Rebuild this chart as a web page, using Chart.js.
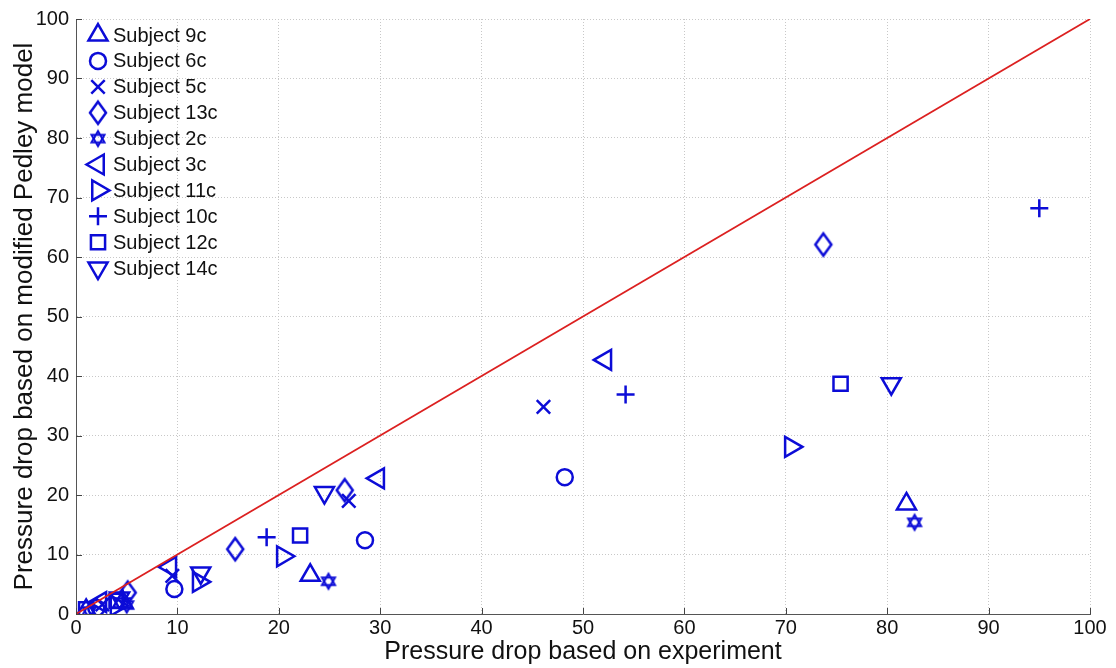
<!DOCTYPE html>
<html lang="en">
  <head>
    <meta charset="utf-8" />
    <script src="https://cdn.jsdelivr.net/npm/chart.js@4.4.0/dist/chart.umd.min.js"></script>
    <title>Pressure drop</title>
    <style>
      body { margin: 0; background: #fff; }
    </style>
  </head>
  <body>
    <canvas id="chart" width="1116" height="668"></canvas>
    <script>
      // experiment (x) vs modified Pedley model (y), one pair of arrays per subject
      const s9cX  = [81.9, 23.1, 4.6, 1.0];
      const s9cY  = [18.5, 6.5, 2.0, 0.6];
      const s6cX  = [48.2, 28.5, 9.7, 2.0];
      const s6cY  = [23.0, 12.4, 4.2, 1.0];
      const s5cX  = [46.1, 26.9, 9.5, 2.6];
      const s5cY  = [34.8, 19.0, 6.4, 1.6];
      const s13cX = [73.7, 26.5, 15.7, 5.1];
      const s13cY = [62.1, 20.8, 10.9, 3.6];
      const s2cX  = [82.7, 24.9, 5.0, 1.3];
      const s2cY  = [15.4, 5.5, 1.5, 0.5];
      const s3cX  = [52.2, 29.8, 9.3, 2.4];
      const s3cY  = [42.7, 22.8, 7.9, 2.0];
      const s11cX = [70.5, 20.4, 12.1, 4.0];
      const s11cY = [28.1, 9.7, 5.4, 1.4];
      const s10cX = [95.0, 54.2, 18.8, 4.6];
      const s10cY = [68.2, 36.9, 12.9, 2.6];
      const s12cX = [75.4, 22.1, 4.0, 1.0];
      const s12cY = [38.7, 13.2, 2.2, 0.8];
      const s14cX = [80.4, 24.5, 12.3, 4.3];
      const s14cY = [38.7, 20.4, 6.9, 2.7];

      const identityX = [0, 100];
      const identityY = [0, 100];
      const axisTicks = [0, 10, 20, 30, 40, 50, 60, 70, 80, 90, 100];

      const blue = 'rgb(12,12,215)';
      const red = 'rgb(220,32,32)';
      const lw = 2.5;

      function pairs(xs, ys) {
        return xs.map((x, i) => ({x: x, y: ys[i]}));
      }

      // marker shapes Chart.js doesn't have
      function diamondMarker() {
        const c = document.createElement('canvas');
        c.width = 22; c.height = 28;
        const g = c.getContext('2d');
        g.strokeStyle = blue; g.lineWidth = lw;
        g.beginPath();
        g.moveTo(11, 3); g.lineTo(19, 14); g.lineTo(11, 25); g.lineTo(3, 14);
        g.closePath(); g.stroke();
        return c;
      }
      function hexagramMarker() {
        const c = document.createElement('canvas');
        c.width = 22; c.height = 22;
        const g = c.getContext('2d');
        g.strokeStyle = blue; g.lineWidth = 2;
        const r = 7.5, cx = 11, cy = 11;
        [0, Math.PI].forEach(off => {
          g.beginPath();
          for (let k = 0; k < 3; k++) {
            const a = off + k * 2 * Math.PI / 3 - Math.PI / 2;
            const px = cx + r * Math.cos(a), py = cy + r * Math.sin(a);
            if (k === 0) g.moveTo(px, py); else g.lineTo(px, py);
          }
          g.closePath(); g.stroke();
        });
        return c;
      }

      function subject(label, xs, ys, style, radius, rotation) {
        return {
          label: label,
          data: pairs(xs, ys),
          pointStyle: style,
          pointRadius: radius,
          pointHoverRadius: radius,
          pointRotation: rotation || 0,
          pointBorderWidth: lw,
          pointBorderColor: blue,
          pointBackgroundColor: 'rgba(0,0,0,0)',
          showLine: false,
          order: 1
        };
      }

      const datasets = [
        {
          label: 'identity',
          data: pairs(identityX, identityY),
          showLine: true,
          borderColor: red,
          borderWidth: 1.8,
          pointRadius: 0,
          order: 0
        },
        subject('Subject 9c', s9cX, s9cY, 'triangle', 11, 0),
        subject('Subject 6c', s6cX, s6cY, 'circle', 8, 0),
        subject('Subject 5c', s5cX, s5cY, 'crossRot', 9.5, 0),
        subject('Subject 13c', s13cX, s13cY, diamondMarker(), 10, 0),
        subject('Subject 2c', s2cX, s2cY, hexagramMarker(), 10, 0),
        subject('Subject 3c', s3cX, s3cY, 'triangle', 11.5, -90),
        subject('Subject 11c', s11cX, s11cY, 'triangle', 11.5, 90),
        subject('Subject 10c', s10cX, s10cY, 'cross', 9, 0),
        subject('Subject 12c', s12cX, s12cY, 'rect', 10, 0),
        subject('Subject 14c', s14cX, s14cY, 'triangle', 11, 180)
      ];

      // legend drawn inside the plot, top-left, no frame
      const innerLegend = {
        id: 'innerLegend',
        afterDatasetsDraw(chart) {
          const ctx = chart.ctx;
          ctx.save();
          let y = 35;
          chart.data.datasets.forEach(ds => {
            if (ds.label === 'identity') return;
            ctx.strokeStyle = blue;
            ctx.fillStyle = 'rgba(0,0,0,0)';
            ctx.lineWidth = ds.pointBorderWidth;
            Chart.helpers.drawPoint(ctx, {
              pointStyle: ds.pointStyle,
              rotation: ds.pointRotation,
              radius: ds.pointRadius,
              borderWidth: ds.pointBorderWidth
            }, 98, y);
            ctx.fillStyle = '#111';
            ctx.font = '20px "Liberation Sans", Arial, sans-serif';
            ctx.textBaseline = 'middle';
            ctx.textAlign = 'left';
            ctx.fillText(ds.label, 113, y + 1);
            y += 25.9;
          });
          ctx.restore();
        }
      };

      // short inward tick marks on the left and bottom axes
      const inwardTicks = {
        id: 'inwardTicks',
        afterDraw(chart) {
          const ctx = chart.ctx;
          const xs = chart.scales.x, ys = chart.scales.y;
          const area = chart.chartArea;
          ctx.save();
          ctx.strokeStyle = '#444';
          ctx.lineWidth = 1;
          axisTicks.forEach(v => {
            const px = Math.round(xs.getPixelForValue(v)) + 0.5;
            ctx.beginPath(); ctx.moveTo(px, area.bottom); ctx.lineTo(px, area.bottom - 6); ctx.stroke();
            const py = Math.round(ys.getPixelForValue(v)) + 0.5;
            ctx.beginPath(); ctx.moveTo(area.left, py); ctx.lineTo(area.left + 6, py); ctx.stroke();
          });
          ctx.restore();
        }
      };

      const tickFont = {family: '"Liberation Sans", Arial, sans-serif', size: 20};
      const xTitleFont = {family: '"Liberation Sans", Arial, sans-serif', size: 25};
      const yTitleFont = {family: '"Liberation Sans", Arial, sans-serif', size: 26};

      const ctx = document.getElementById('chart').getContext('2d');
      new Chart(ctx, {
        type: 'scatter',
        data: {datasets: datasets},
        options: {
          responsive: false,
          animation: false,
          layout: {padding: {top: 17, right: 26, left: 0, bottom: 0}},
          plugins: {
            legend: {display: false},
            tooltip: {enabled: false}
          },
          scales: {
            x: {
              type: 'linear',
              min: 0, max: 100,
              afterBuildTicks: axis => { axis.ticks = axisTicks.map(v => ({value: v})); },
              afterFit: axis => { axis.height = 54; },
              ticks: {color: '#111', font: tickFont, padding: 2, maxRotation: 0},
              grid: {color: '#c8c8c8', lineWidth: 1, drawTicks: false},
              border: {display: true, color: '#555', width: 1, dash: [1, 2]},
              title: {display: true, text: 'Pressure drop based on experiment', color: '#111', font: xTitleFont, padding: {top: 0, bottom: 1}}
            },
            y: {
              type: 'linear',
              min: 0, max: 100,
              afterBuildTicks: axis => { axis.ticks = axisTicks.map(v => ({value: v})); },
              afterFit: axis => { axis.width = 76; },
              ticks: {color: '#111', font: tickFont, padding: 7},
              grid: {color: '#c8c8c8', lineWidth: 1, drawTicks: false},
              border: {display: true, color: '#555', width: 1, dash: [1, 2]},
              title: {display: true, text: 'Pressure drop based on modified Pedley model', color: '#111', font: yTitleFont, padding: {top: 9, bottom: 0}}
            }
          }
        },
        plugins: [innerLegend, inwardTicks]
      });
    </script>
  </body>
</html>
